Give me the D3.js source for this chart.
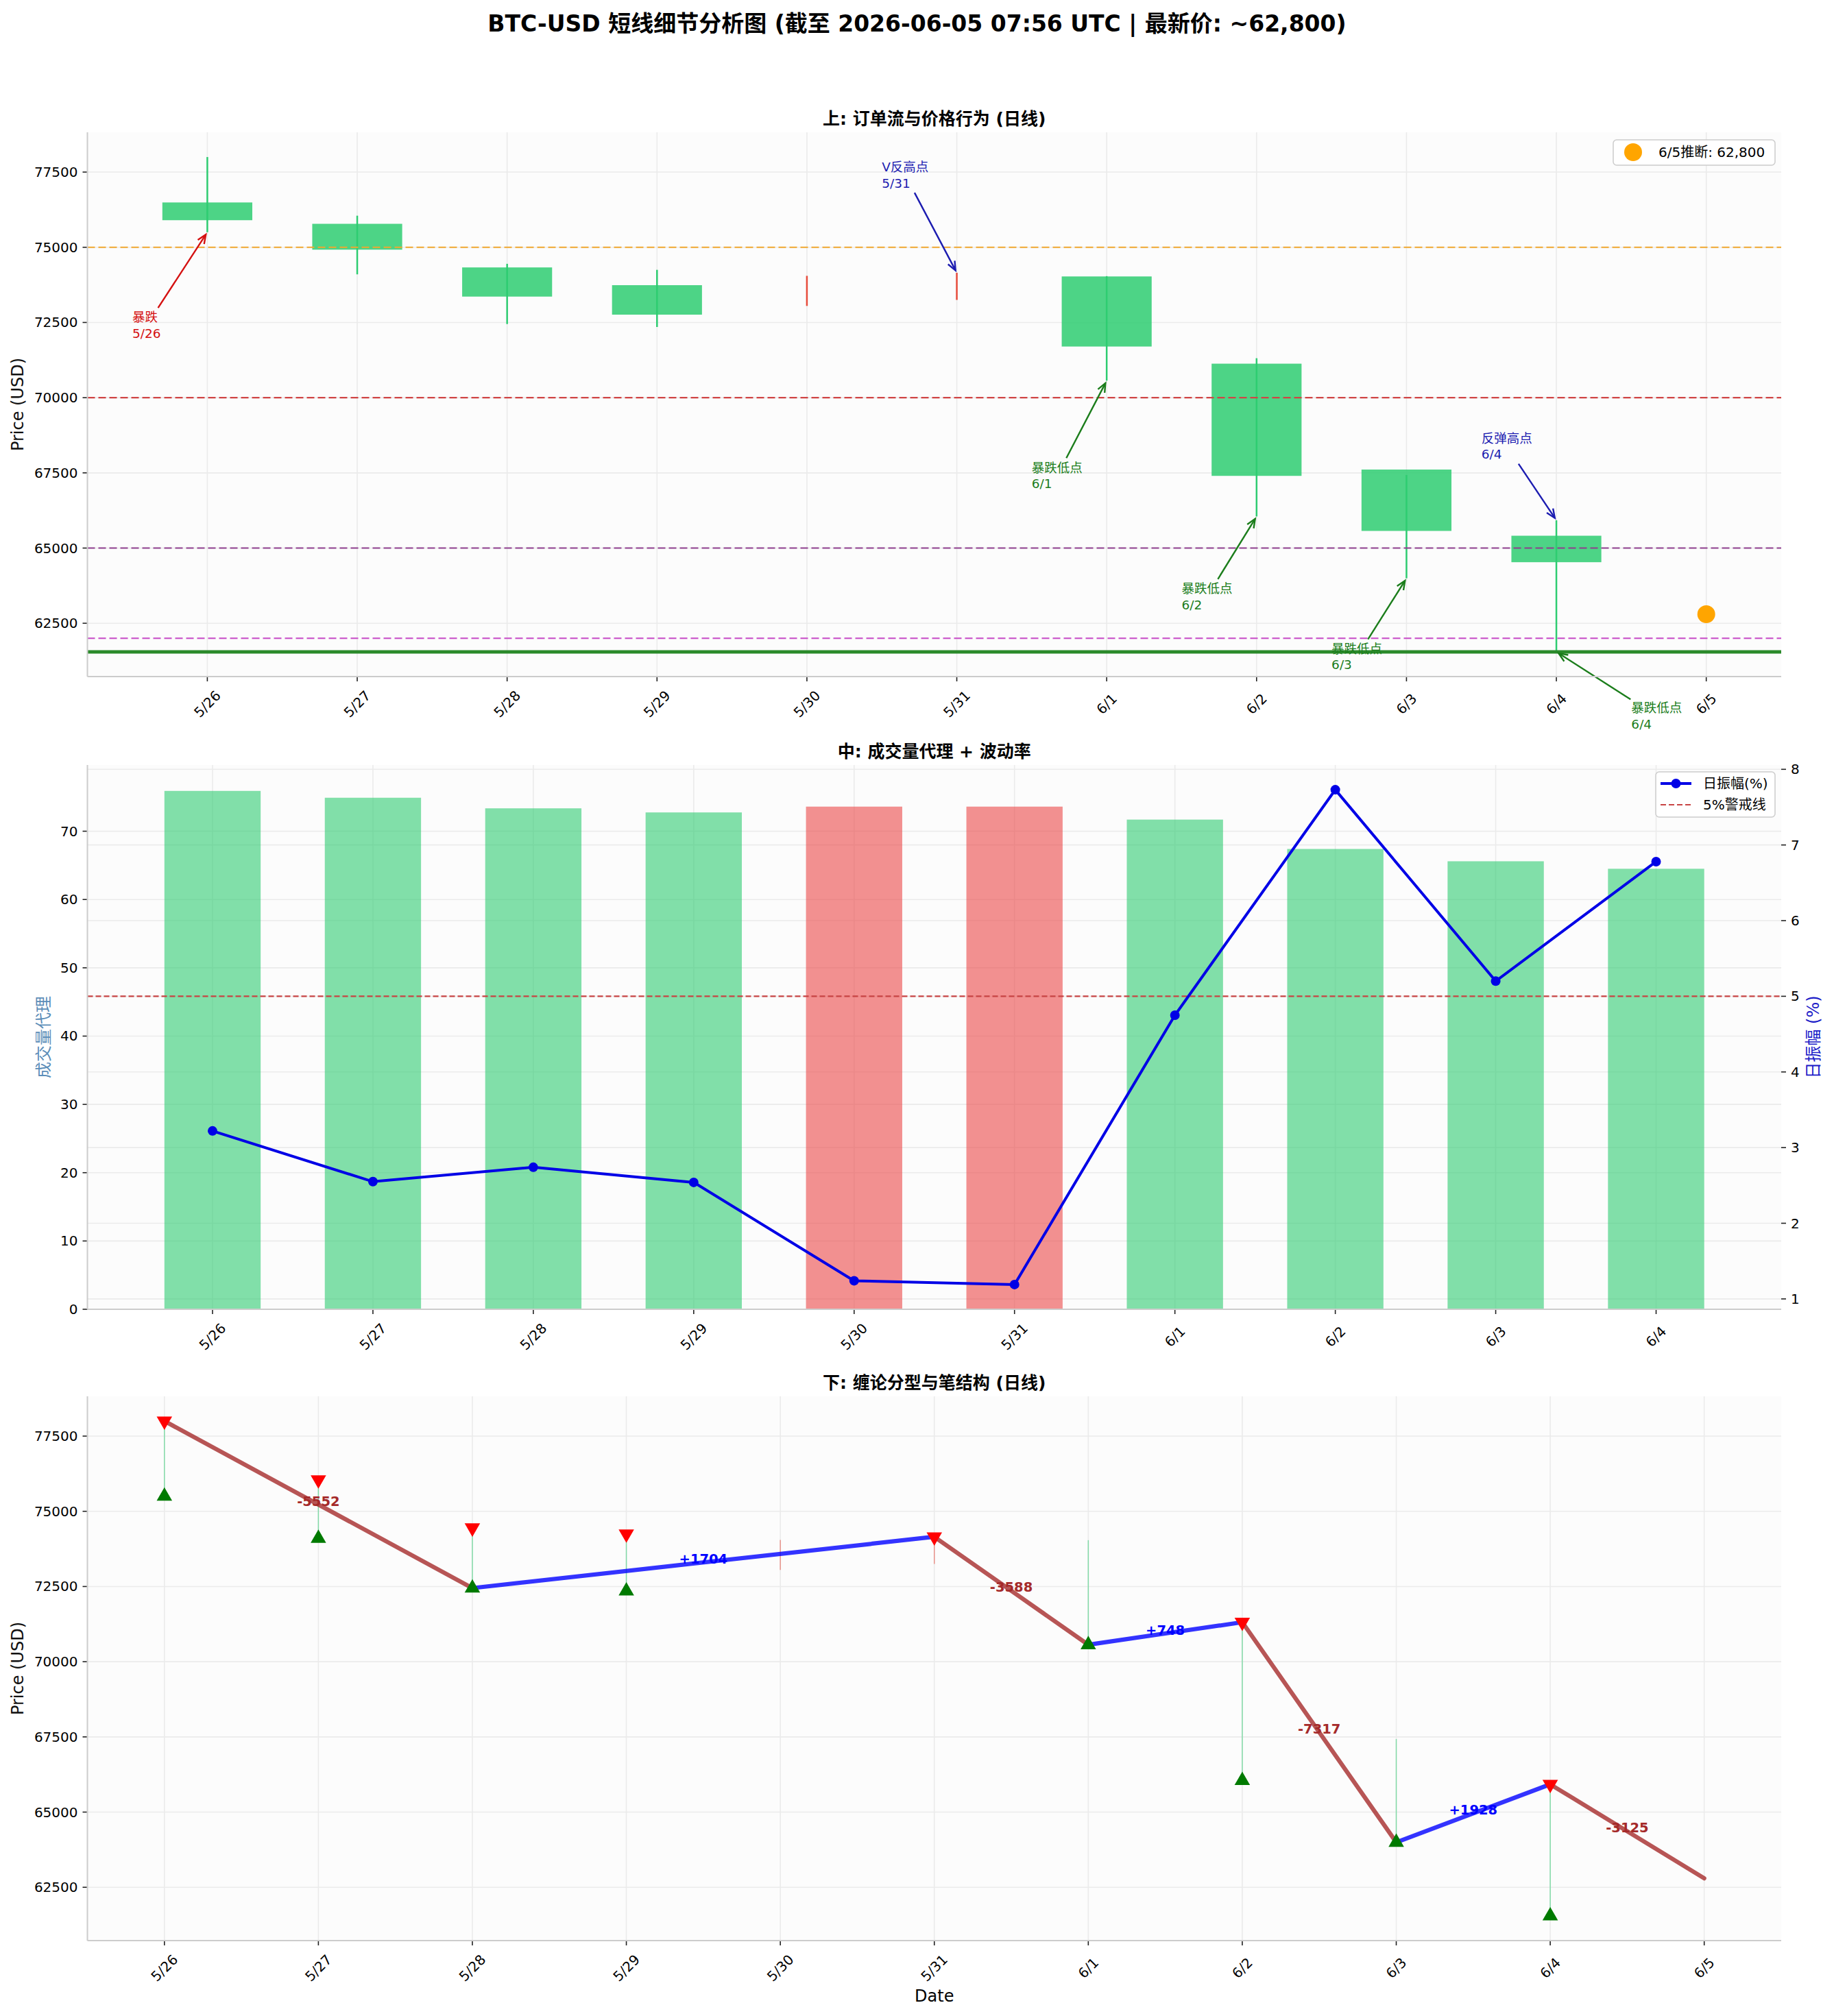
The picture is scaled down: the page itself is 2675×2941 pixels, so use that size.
<!DOCTYPE html>
<html>
<head>
<meta charset="utf-8">
<script src="https://cdn.jsdelivr.net/npm/d3@7"></script>
<style>
body { margin: 0; background: #fff; }
text { font-family: "DejaVu Sans", "Noto Sans CJK SC", sans-serif; }
</style>
</head>
<body>
<script>
// Daily candles 5/26 .. 6/4
var dates = ["5/26", "5/27", "5/28", "5/29", "5/30", "5/31", "6/1", "6/2", "6/3", "6/4"];
var nextDate = "6/5";
var opens  = [76490, 75780, 74330, 73740, 73600, 73600, 74030, 71130, 67610, 65410];
var closes = [75900, 74920, 73360, 72760, 73600, 73600, 71700, 67400, 65570, 64530];
var highs  = [78000, 76050, 74450, 74250, 74050, 74152, 74040, 71312, 67430, 65923];
var lows   = [75500, 74100, 72448, 72350, 73050, 73250, 70564, 66050, 63995, 61550];

// middle panel
var volumeProxy = [75.9, 74.9, 73.35, 72.75, 73.6, 73.6, 71.7, 67.4, 65.6, 64.5];
var amplitude = [3.22, 2.55, 2.74, 2.54, 1.24, 1.19, 4.75, 7.73, 5.20, 6.78];
var warnLevel = 5;

// levels + forecast
var keyLevels = [75000, 70000, 65000, 62000];
var forecastPrice = 62800;

// chan: fractals and pens
var topFractals = [0, 1, 2, 3, 5, 7, 9];
var bottomFractals = [0, 1, 2, 3, 6, 7, 8, 9];
var penDays = [0, 2, 5, 6, 7, 8, 9, 10];
var penPrices = [78000, 72448, 74152, 70564, 71312, 63995, 65923, 62798];

// annotations (text anchor in day / price units)
var annLabels = ["暴跌\n5/26", "V反高点\n5/31", "暴跌低点\n6/1", "暴跌低点\n6/2", "暴跌低点\n6/3", "反弹高点\n6/4", "暴跌低点\n6/4"];
var annKind = ["drop", "high", "low", "low", "low", "high", "low"];
var annDays = [0, 5, 6, 7, 8, 9, 9];
var annTextDay = [-0.5, 4.5, 5.5, 6.5, 7.5, 8.5, 9.5];
var annTextPrice = [72670, 77670, 67670, 63650, 61650, 68650, 59680];

var W = 2675, H = 2941;
var LEFT = 127.5, RIGHT = 2598;
var GREEN = "#2ecc71", RED = "#e74c3c", BAR_RED = "#eb4848";
var annColor = { drop: "#d41010", high: "#1c1cb0", low: "#1b7d1b" };
var levelColor = ["#f0a830", "#d04545", "#8e3f8e", "#cc5ccc"];

var allLabels = dates.concat([nextDate]);
var isUp = dates.map(function(d, i) { return closes[i] >= opens[i]; });

var svg = d3.select("body").append("svg").attr("width", W).attr("height", H);
svg.append("rect").attr("width", W).attr("height", H).attr("fill", "#fff");

svg.append("text")
    .attr("x", W / 2).attr("y", 34).attr("dy", "0.35em")
    .attr("text-anchor", "middle")
    .attr("font-size", 33).attr("font-weight", "bold")
    .text("BTC-USD 短线细节分析图 (截至 2026-06-05 07:56 UTC | 最新价: ~62,800)");


function makePanel(y0, y1, xDomain, yDomain, title) {
    var p = {
        top: y0, bottom: y1,
        x: d3.scaleLinear().domain(xDomain).range([LEFT, RIGHT]),
        y: d3.scaleLinear().domain(yDomain).range([y1, y0]),
        g: svg.append("g")
    };
    p.g.append("rect")
        .attr("x", LEFT).attr("y", y0)
        .attr("width", RIGHT - LEFT).attr("height", y1 - y0)
        .attr("fill", "#fcfcfc");
    svg.append("text")
        .attr("x", (LEFT + RIGHT) / 2).attr("y", y0 - 20).attr("dy", "0.35em")
        .attr("text-anchor", "middle")
        .attr("font-size", 25).attr("font-weight", "bold")
        .text(title);
    return p;
}

function hGrid(p, ys, scale) {
    p.g.selectAll(null).data(ys).enter().append("line")
        .attr("x1", LEFT).attr("x2", RIGHT)
        .attr("y1", function(d) { return scale(d); })
        .attr("y2", function(d) { return scale(d); })
        .attr("stroke", "#ebebeb").attr("stroke-width", 1.6);
}

function vGrid(p, xs) {
    p.g.selectAll(null).data(xs).enter().append("line")
        .attr("x1", function(d) { return p.x(d); })
        .attr("x2", function(d) { return p.x(d); })
        .attr("y1", p.top).attr("y2", p.bottom)
        .attr("stroke", "#ebebeb").attr("stroke-width", 1.6);
}

function leftAxis(p, ticks, fmt) {
    var g = svg.append("g");
    ticks.forEach(function(t) {
        var y = p.y(t);
        g.append("line").attr("x1", LEFT - 7).attr("x2", LEFT).attr("y1", y).attr("y2", y)
            .attr("stroke", "#222").attr("stroke-width", 1.6);
        g.append("text").attr("x", LEFT - 14).attr("y", y).attr("dy", "0.35em")
            .attr("text-anchor", "end").attr("font-size", 20).text(fmt(t));
    });
}

function rightAxis(p, scale, ticks) {
    var g = svg.append("g");
    ticks.forEach(function(t) {
        var y = scale(t);
        g.append("line").attr("x1", RIGHT).attr("x2", RIGHT + 7).attr("y1", y).attr("y2", y)
            .attr("stroke", "#222").attr("stroke-width", 1.6);
        g.append("text").attr("x", RIGHT + 14).attr("y", y).attr("dy", "0.35em")
            .attr("text-anchor", "start").attr("font-size", 20).text(t);
    });
}

function bottomAxis(p, labels) {
    var g = svg.append("g");
    labels.forEach(function(lab, i) {
        var x = p.x(i);
        g.append("line").attr("x1", x).attr("x2", x).attr("y1", p.bottom).attr("y2", p.bottom + 7)
            .attr("stroke", "#222").attr("stroke-width", 1.6);
        g.append("text")
            .attr("transform", "translate(" + x + "," + (p.bottom + 40) + ") rotate(-45)")
            .attr("dy", "0.35em").attr("text-anchor", "middle").attr("font-size", 20)
            .text(lab);
    });
}

function spines(p) {
    svg.append("line").attr("x1", LEFT).attr("x2", LEFT).attr("y1", p.top).attr("y2", p.bottom)
        .attr("stroke", "#cccccc").attr("stroke-width", 2);
    svg.append("line").attr("x1", LEFT).attr("x2", RIGHT).attr("y1", p.bottom).attr("y2", p.bottom)
        .attr("stroke", "#cccccc").attr("stroke-width", 2);
}

function yLabel(x, y, txt, color) {
    svg.append("text")
        .attr("transform", "translate(" + x + "," + y + ") rotate(-90)")
        .attr("dy", "0.35em").attr("text-anchor", "middle")
        .attr("font-size", 24).attr("fill", color || "#111")
        .text(txt);
}

function arrow(g, x1, y1, x2, y2, color) {
    var a = Math.atan2(y2 - y1, x2 - x1);
    var hl = 13, hw = 5.5;
    g.append("line").attr("x1", x1).attr("y1", y1).attr("x2", x2).attr("y2", y2)
        .attr("stroke", color).attr("stroke-width", 2.4);
    var p1 = [x2 - hl * Math.cos(a) + hw * Math.sin(a), y2 - hl * Math.sin(a) - hw * Math.cos(a)];
    var p2 = [x2 - hl * Math.cos(a) - hw * Math.sin(a), y2 - hl * Math.sin(a) + hw * Math.cos(a)];
    g.append("path").attr("d", d3.line()([p1, [x2, y2], p2]))
        .attr("fill", "none").attr("stroke", color).attr("stroke-width", 2.4);
}

function clipToBox(bb, cx, cy, tx, ty) {
    var dx = tx - cx, dy = ty - cy, t = Infinity;
    if (dx !== 0) t = Math.min(t, ((dx > 0 ? bb.x + bb.width : bb.x) - cx) / dx);
    if (dy !== 0) t = Math.min(t, ((dy > 0 ? bb.y + bb.height : bb.y) - cy) / dy);
    return [cx + dx * t, cy + dy * t];
}


// ---------- top: candles ----------
var priceDomain = (function() {
    var lo = d3.min(lows), hi = d3.max(highs), pad = (hi - lo) * 0.05;
    return [lo - pad, hi + pad];
})();
var priceTicks = d3.range(62500, priceDomain[1], 2500);

var pTop = makePanel(193, 987, [-0.8, 10.5], priceDomain, "上: 订单流与价格行为 (日线)");
hGrid(pTop, priceTicks, pTop.y);
vGrid(pTop, d3.range(allLabels.length));

pTop.g.selectAll(".wick").data(dates).enter().append("line")
    .attr("x1", function(d, i) { return pTop.x(i); })
    .attr("x2", function(d, i) { return pTop.x(i); })
    .attr("y1", function(d, i) { return pTop.y(highs[i]); })
    .attr("y2", function(d, i) { return pTop.y(lows[i]); })
    .attr("stroke", function(d, i) { return isUp[i] ? RED : GREEN; })
    .attr("stroke-width", 2.5);

pTop.g.selectAll(".body").data(dates).enter().append("rect")
    .attr("x", function(d, i) { return pTop.x(i - 0.3); })
    .attr("width", pTop.x(0.3) - pTop.x(-0.3))
    .attr("y", function(d, i) { return pTop.y(Math.max(opens[i], closes[i])); })
    .attr("height", function(d, i) { return Math.abs(pTop.y(opens[i]) - pTop.y(closes[i])); })
    .attr("fill", function(d, i) { return isUp[i] ? RED : GREEN; })
    .attr("opacity", 0.85);

pTop.g.selectAll(".level").data(keyLevels).enter().append("line")
    .attr("x1", LEFT).attr("x2", RIGHT)
    .attr("y1", function(d) { return pTop.y(d); })
    .attr("y2", function(d) { return pTop.y(d); })
    .attr("stroke", function(d, i) { return levelColor[i]; })
    .attr("stroke-width", 2.2).attr("stroke-dasharray", "11,5");

pTop.g.append("line")
    .attr("x1", LEFT).attr("x2", RIGHT)
    .attr("y1", pTop.y(d3.min(lows))).attr("y2", pTop.y(d3.min(lows)))
    .attr("stroke", "#2a8a2a").attr("stroke-width", 5);

pTop.g.append("circle")
    .attr("cx", pTop.x(dates.length)).attr("cy", pTop.y(forecastPrice))
    .attr("r", 13).attr("fill", "orange");

// annotations
annLabels.forEach(function(lab, i) {
    var color = annColor[annKind[i]];
    var target = annKind[i] === "high" ? highs[annDays[i]] : lows[annDays[i]];
    var t = pTop.g.append("text")
        .attr("x", pTop.x(annTextDay[i])).attr("y", pTop.y(annTextPrice[i]))
        .attr("font-size", 18.5).attr("fill", color);
    lab.split("\n").forEach(function(line, k) {
        t.append("tspan").attr("x", pTop.x(annTextDay[i]))
            .attr("dy", k === 0 ? "0.35em" : "1.27em").text(line);
    });
    var bb = t.node().getBBox();
    var tx = pTop.x(annDays[i]), ty = pTop.y(target);
    var cx = bb.x + bb.width / 2, cy = bb.y + bb.height / 2;
    var s = clipToBox(bb, cx, cy, tx, ty);
    var len = Math.hypot(tx - s[0], ty - s[1]);
    var ux = (tx - s[0]) / len, uy = (ty - s[1]) / len;
    arrow(pTop.g, s[0] + ux * 4, s[1] + uy * 4, tx - ux * 4, ty - uy * 4, color);
});

// legend
var lg = svg.append("g");
lg.append("rect").attr("x", 2353).attr("y", 204).attr("width", 236).attr("height", 37).attr("rx", 5)
    .attr("fill", "#fff").attr("stroke", "#cccccc").attr("stroke-width", 1.5);
lg.append("circle").attr("cx", 2382).attr("cy", 222).attr("r", 13).attr("fill", "orange");
lg.append("text").attr("x", 2419).attr("y", 222).attr("dy", "0.35em").attr("font-size", 20)
    .text(nextDate + "推断: " + d3.format(",")(forecastPrice));

leftAxis(pTop, priceTicks, d3.format("d"));
bottomAxis(pTop, allLabels);
spines(pTop);
yLabel(26, (pTop.top + pTop.bottom) / 2, "Price (USD)");


// ---------- middle: volume proxy + amplitude ----------
var pMid = makePanel(1116, 1910, [-0.78, 9.78], [0, d3.max(volumeProxy) * 1.05], "中: 成交量代理 + 波动率");
var ampDomain = (function() {
    var lo = d3.min(amplitude), hi = d3.max(amplitude), pad = (hi - lo) * 0.05;
    return [lo - pad, hi + pad];
})();
var yAmp = d3.scaleLinear().domain(ampDomain).range([pMid.bottom, pMid.top]);
var volTicks = d3.range(0, 80, 10);
var ampTicks = d3.range(1, 9);

hGrid(pMid, volTicks, pMid.y);
hGrid(pMid, ampTicks, yAmp);
vGrid(pMid, d3.range(dates.length));

pMid.g.selectAll(".vol").data(volumeProxy).enter().append("rect")
    .attr("x", function(d, i) { return pMid.x(i - 0.3); })
    .attr("width", pMid.x(0.3) - pMid.x(-0.3))
    .attr("y", function(d) { return pMid.y(d); })
    .attr("height", function(d) { return pMid.bottom - pMid.y(d); })
    .attr("fill", function(d, i) { return isUp[i] ? BAR_RED : GREEN; })
    .attr("opacity", 0.6);

pMid.g.append("line")
    .attr("x1", LEFT).attr("x2", RIGHT)
    .attr("y1", yAmp(warnLevel)).attr("y2", yAmp(warnLevel))
    .attr("stroke", "#c84444").attr("stroke-width", 2.2).attr("stroke-dasharray", "8,4");

pMid.g.append("path")
    .datum(amplitude)
    .attr("d", d3.line().x(function(d, i) { return pMid.x(i); }).y(function(d) { return yAmp(d); }))
    .attr("fill", "none").attr("stroke", "#0000e6").attr("stroke-width", 4);
pMid.g.selectAll(".amp").data(amplitude).enter().append("circle")
    .attr("cx", function(d, i) { return pMid.x(i); })
    .attr("cy", function(d) { return yAmp(d); })
    .attr("r", 7).attr("fill", "#0000e6");

var lg2 = svg.append("g");
lg2.append("rect").attr("x", 2415).attr("y", 1126).attr("width", 174).attr("height", 66).attr("rx", 5)
    .attr("fill", "#fff").attr("stroke", "#cccccc").attr("stroke-width", 1.5);
lg2.append("line").attr("x1", 2422).attr("x2", 2467).attr("y1", 1143).attr("y2", 1143)
    .attr("stroke", "#0000e6").attr("stroke-width", 4);
lg2.append("circle").attr("cx", 2444.5).attr("cy", 1143).attr("r", 7).attr("fill", "#0000e6");
lg2.append("text").attr("x", 2484).attr("y", 1143).attr("dy", "0.35em").attr("font-size", 20).text("日振幅(%)");
lg2.append("line").attr("x1", 2422).attr("x2", 2467).attr("y1", 1174).attr("y2", 1174)
    .attr("stroke", "#c84444").attr("stroke-width", 2.2).attr("stroke-dasharray", "8,4");
lg2.append("text").attr("x", 2484).attr("y", 1174).attr("dy", "0.35em").attr("font-size", 20).text("5%警戒线");

leftAxis(pMid, volTicks, d3.format("d"));
rightAxis(pMid, yAmp, ampTicks);
bottomAxis(pMid, dates);
spines(pMid);
yLabel(64, (pMid.top + pMid.bottom) / 2, "成交量代理", "#5b8db8");
yLabel(2645, (pMid.top + pMid.bottom) / 2, "日振幅 (%)", "#1c1cc8");


// ---------- bottom: fractals + pens ----------
var pBot = makePanel(2037, 2831, [-0.5, 10.5], priceDomain, "下: 缠论分型与笔结构 (日线)");
hGrid(pBot, priceTicks, pBot.y);
vGrid(pBot, d3.range(allLabels.length));

pBot.g.selectAll(".wick").data(dates).enter().append("line")
    .attr("x1", function(d, i) { return pBot.x(i); })
    .attr("x2", function(d, i) { return pBot.x(i); })
    .attr("y1", function(d, i) { return pBot.y(highs[i]); })
    .attr("y2", function(d, i) { return pBot.y(lows[i]); })
    .attr("stroke", function(d, i) { return isUp[i] ? RED : GREEN; })
    .attr("stroke-width", 1.5).attr("opacity", 0.55);

var pens = d3.range(penDays.length - 1).map(function(k) {
    return { x0: penDays[k], y0: penPrices[k], x1: penDays[k + 1], y1: penPrices[k + 1] };
});

pBot.g.selectAll(".pen").data(pens).enter().append("line")
    .attr("x1", function(d) { return pBot.x(d.x0); })
    .attr("y1", function(d) { return pBot.y(d.y0); })
    .attr("x2", function(d) { return pBot.x(d.x1); })
    .attr("y2", function(d) { return pBot.y(d.y1); })
    .attr("stroke", function(d) { return d.y1 > d.y0 ? "#0000ff" : "#a52a2a"; })
    .attr("stroke-opacity", 0.8).attr("stroke-width", 6.2).attr("stroke-linecap", "round");

var tri = d3.symbol().type(d3.symbolTriangle).size(220);
pBot.g.selectAll(".topf").data(topFractals).enter().append("path")
    .attr("d", tri)
    .attr("transform", function(d) { return "translate(" + pBot.x(d) + "," + pBot.y(highs[d]) + ") rotate(180)"; })
    .attr("fill", "#ff0000");
pBot.g.selectAll(".botf").data(bottomFractals).enter().append("path")
    .attr("d", tri)
    .attr("transform", function(d) { return "translate(" + pBot.x(d) + "," + pBot.y(lows[d]) + ")"; })
    .attr("fill", "#007a00");

pBot.g.selectAll(".penlab").data(pens).enter().append("text")
    .attr("x", function(d) { return (pBot.x(d.x0) + pBot.x(d.x1)) / 2; })
    .attr("y", function(d) { return (pBot.y(d.y0) + pBot.y(d.y1)) / 2 - 5; })
    .attr("dy", "0.35em").attr("text-anchor", "middle")
    .attr("font-size", 19.5).attr("font-weight", "bold")
    .attr("fill", function(d) { return d.y1 > d.y0 ? "#0000ff" : "#a52a2a"; })
    .text(function(d) {
        var diff = Math.round(d.y1 - d.y0);
        return (diff > 0 ? "+" : "-") + Math.abs(diff);
    });

leftAxis(pBot, priceTicks, d3.format("d"));
bottomAxis(pBot, allLabels);
spines(pBot);
yLabel(26, (pBot.top + pBot.bottom) / 2, "Price (USD)");
svg.append("text")
    .attr("x", (LEFT + RIGHT) / 2).attr("y", 2912).attr("dy", "0.35em")
    .attr("text-anchor", "middle").attr("font-size", 24)
    .text("Date");
</script>
</body>
</html>
